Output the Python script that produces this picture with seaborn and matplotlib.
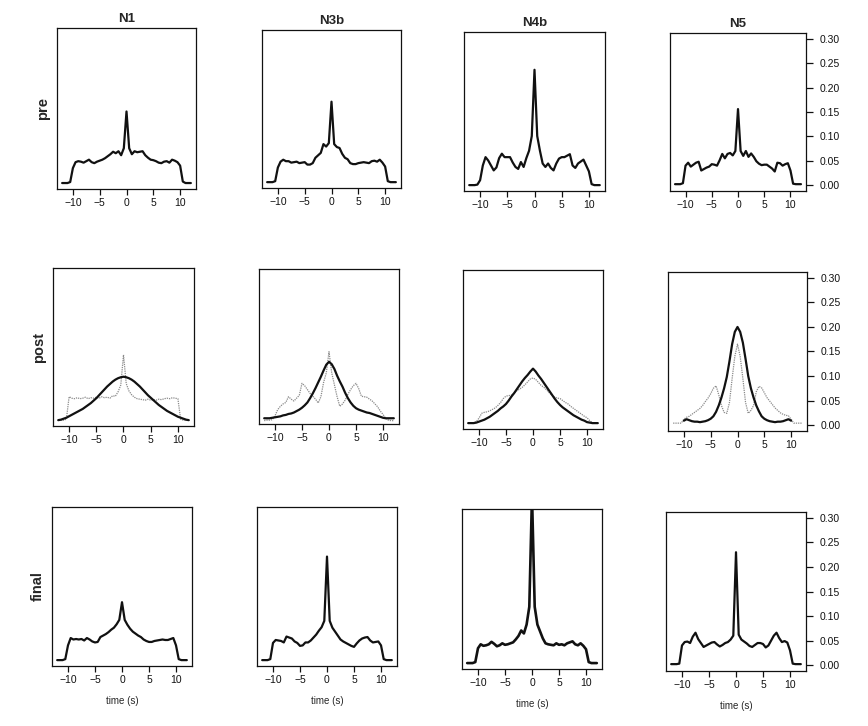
import matplotlib
matplotlib.use("Agg")
import numpy as np
import pandas as pd
import matplotlib.pyplot as plt
import seaborn as sns

nan = np.nan

time_s = [-12.0, -11.5, -11.0, -10.5, -10.0, -9.5, -9.0, -8.5,
          -8.0, -7.5, -7.0, -6.5, -6.0, -5.5, -5.0, -4.5,
          -4.0, -3.5, -3.0, -2.5, -2.0, -1.5, -1.0, -0.5,
          0.0,
          0.5, 1.0, 1.5, 2.0, 2.5, 3.0, 3.5, 4.0,
          4.5, 5.0, 5.5, 6.0, 6.5, 7.0, 7.5, 8.0,
          8.5, 9.0, 9.5, 10.0, 10.5, 11.0, 11.5, 12.0]

neurons = ["N1", "N3b", "N4b", "N5"]
phases = ["pre", "post", "final"]
yticks = [0.0, 0.05, 0.10, 0.15, 0.20, 0.25, 0.30]

# ---- pre ----
pre_n1 = [0.0, 0.0, 0.0, 0.002, 0.030, 0.042, 0.044, 0.043,
          0.041, 0.044, 0.047, 0.042, 0.040, 0.043, 0.045, 0.047,
          0.050, 0.054, 0.058, 0.063, 0.060, 0.064, 0.056, 0.070,
          0.144,
          0.070, 0.058, 0.064, 0.062, 0.063, 0.064, 0.056, 0.051,
          0.047, 0.046, 0.044, 0.041, 0.040, 0.043, 0.044, 0.041,
          0.047, 0.045, 0.042, 0.035, 0.003, 0.0, 0.0, 0.0]
pre_n3b = [0.0, 0.0, 0.0, 0.002, 0.030, 0.042, 0.046, 0.043,
           0.043, 0.040, 0.041, 0.042, 0.039, 0.040, 0.041, 0.036,
           0.036, 0.039, 0.050, 0.055, 0.060, 0.078, 0.073, 0.080,
           0.165,
           0.078, 0.072, 0.070, 0.058, 0.050, 0.047, 0.039, 0.037,
           0.037, 0.039, 0.040, 0.041, 0.040, 0.039, 0.043, 0.044,
           0.042, 0.046, 0.040, 0.032, 0.002, 0.0, 0.0, 0.0]
pre_n4b = [0.0, 0.0, 0.0, 0.001, 0.010, 0.040, 0.057, 0.050,
           0.040, 0.030, 0.036, 0.055, 0.064, 0.057, 0.057, 0.057,
           0.046, 0.037, 0.033, 0.047, 0.037, 0.055, 0.070, 0.100,
           0.235,
           0.100, 0.070, 0.044, 0.037, 0.044, 0.035, 0.030, 0.044,
           0.054, 0.057, 0.057, 0.060, 0.063, 0.040, 0.035, 0.044,
           0.048, 0.052, 0.040, 0.028, 0.002, 0.0, 0.0, 0.0]
pre_n5 = [0.002, 0.002, 0.002, 0.004, 0.040, 0.046, 0.038, 0.042,
          0.046, 0.048, 0.030, 0.033, 0.036, 0.038, 0.043, 0.042,
          0.040, 0.051, 0.064, 0.055, 0.064, 0.066, 0.061, 0.070,
          0.156,
          0.070, 0.060, 0.070, 0.058, 0.065, 0.058, 0.049, 0.044,
          0.041, 0.042, 0.042, 0.038, 0.034, 0.028, 0.046, 0.045,
          0.040, 0.043, 0.045, 0.030, 0.003, 0.002, 0.002, 0.002]

# ---- post (solid) ----
post_n1 = [0.0, 0.001, 0.003, 0.005, 0.008, 0.011, 0.014, 0.017,
           0.020, 0.023, 0.027, 0.031, 0.035, 0.040, 0.045, 0.051,
           0.057, 0.063, 0.069, 0.074, 0.079, 0.083, 0.086, 0.088,
           0.089,
           0.088, 0.086, 0.083, 0.079, 0.074, 0.069, 0.063, 0.057,
           0.051, 0.046, 0.041, 0.036, 0.031, 0.027, 0.023, 0.019,
           0.016, 0.013, 0.010, 0.007, 0.005, 0.003, 0.001, 0.0]
post_n3b = [0.0, 0.0, 0.0, 0.001, 0.002, 0.003, 0.004, 0.006,
            0.007, 0.009, 0.010, 0.012, 0.015, 0.018, 0.022, 0.027,
            0.033, 0.042, 0.052, 0.063, 0.075, 0.087, 0.100, 0.112,
            0.118,
            0.113, 0.103, 0.089, 0.077, 0.066, 0.053, 0.042, 0.033,
            0.026, 0.021, 0.018, 0.016, 0.014, 0.012, 0.011, 0.009,
            0.007, 0.005, 0.003, 0.001, 0.0, 0.0, 0.0, 0.0]
post_n4b = [0.0, 0.0, 0.0, 0.001, 0.003, 0.005, 0.007, 0.010,
            0.013, 0.017, 0.021, 0.025, 0.030, 0.034, 0.039, 0.046,
            0.054, 0.061, 0.069, 0.077, 0.085, 0.092, 0.098, 0.105,
            0.111,
            0.105, 0.097, 0.090, 0.082, 0.074, 0.066, 0.058, 0.050,
            0.043, 0.037, 0.032, 0.028, 0.024, 0.020, 0.016, 0.013,
            0.010, 0.007, 0.005, 0.002, 0.001, 0.0, 0.0, 0.0]
post_n5 = [nan, nan, nan, nan, 0.009, 0.012, 0.010, 0.008,
           0.007, 0.007, 0.006, 0.007, 0.008, 0.010, 0.013, 0.018,
           0.027, 0.040, 0.056, 0.075, 0.098, 0.130, 0.165, 0.190,
           0.200,
           0.190, 0.168, 0.135, 0.100, 0.075, 0.056, 0.040, 0.028,
           0.018, 0.013, 0.010, 0.008, 0.007, 0.006, 0.007, 0.007,
           0.008, 0.010, 0.012, 0.009, nan, nan, nan, nan]

# ---- post (dotted grey) ----
post_n1_dot = [0.0, 0.0, 0.0, 0.002, 0.048, 0.045, 0.044, 0.046,
               0.044, 0.045, 0.047, 0.044, 0.046, 0.045, 0.047, 0.045,
               0.048, 0.046, 0.047, 0.045, 0.050, 0.049, 0.058, 0.072,
               0.134,
               0.075, 0.060, 0.052, 0.047, 0.044, 0.043, 0.042, 0.041,
               0.043, 0.041, 0.042, 0.041, 0.043, 0.042, 0.044, 0.045,
               0.044, 0.046, 0.045, 0.044, 0.002, 0.0, 0.0, 0.0]
post_n3b_dot = [-0.005, -0.004, -0.004, -0.003, 0.005, 0.018, 0.025, 0.030,
                0.033, 0.045, 0.040, 0.036, 0.042, 0.048, 0.073, 0.068,
                0.060, 0.052, 0.046, 0.040, 0.032, 0.045, 0.075, 0.095,
                0.139,
                0.095, 0.070, 0.045, 0.025, 0.030, 0.038, 0.050, 0.060,
                0.068, 0.073, 0.062, 0.046, 0.045, 0.044, 0.040, 0.036,
                0.030, 0.024, 0.015, 0.008, 0.0, -0.004, -0.005, -0.005]
post_n4b_dot = [0.0, 0.0, 0.001, 0.003, 0.010, 0.020, 0.022, 0.023,
                0.025, 0.028, 0.031, 0.036, 0.042, 0.050, 0.055, 0.056,
                0.057, 0.061, 0.066, 0.069, 0.073, 0.078, 0.084, 0.090,
                0.092,
                0.089, 0.083, 0.077, 0.073, 0.068, 0.062, 0.057, 0.053,
                0.051, 0.050, 0.046, 0.042, 0.039, 0.034, 0.030, 0.026,
                0.022, 0.018, 0.014, 0.011, 0.005, 0.001, 0.0, 0.0]
post_n5_dot = [0.004, 0.004, 0.004, 0.004, 0.012, 0.016, 0.018, 0.022,
               0.026, 0.030, 0.034, 0.040, 0.048, 0.055, 0.064, 0.075,
               0.080, 0.062, 0.040, 0.026, 0.024, 0.046, 0.095, 0.140,
               0.165,
               0.140, 0.095, 0.046, 0.024, 0.030, 0.040, 0.068, 0.079,
               0.076, 0.066, 0.056, 0.049, 0.042, 0.035, 0.030, 0.025,
               0.022, 0.020, 0.019, 0.012, 0.004, 0.004, 0.004, 0.004]

# ---- final ----
final_n1 = [0.0, 0.0, 0.0, 0.002, 0.030, 0.045, 0.042, 0.043,
            0.042, 0.043, 0.040, 0.045, 0.042, 0.038, 0.036, 0.037,
            0.047, 0.050, 0.053, 0.057, 0.062, 0.066, 0.073, 0.082,
            0.118,
            0.082, 0.072, 0.064, 0.058, 0.054, 0.050, 0.047, 0.042,
            0.039, 0.037, 0.037, 0.039, 0.040, 0.041, 0.042, 0.041,
            0.041, 0.043, 0.045, 0.030, 0.002, 0.0, 0.0, 0.0]
final_n3b = [0.0, 0.0, 0.0, 0.002, 0.035, 0.041, 0.040, 0.039,
             0.036, 0.048, 0.046, 0.044, 0.038, 0.035, 0.029, 0.030,
             0.036, 0.036, 0.040, 0.046, 0.052, 0.060, 0.067, 0.080,
             0.211,
             0.080, 0.066, 0.058, 0.050, 0.042, 0.038, 0.035, 0.032,
             0.029, 0.027, 0.034, 0.040, 0.044, 0.046, 0.047, 0.040,
             0.036, 0.037, 0.038, 0.030, 0.002, 0.0, 0.0, 0.0]
final_n4b = [0.0, 0.0, 0.0, 0.002, 0.030, 0.038, 0.035, 0.036,
             0.038, 0.043, 0.039, 0.034, 0.036, 0.040, 0.037, 0.038,
             0.040, 0.042, 0.048, 0.055, 0.066, 0.060, 0.078, 0.114,
             0.340,
             0.114, 0.078, 0.064, 0.050, 0.040, 0.038, 0.037, 0.036,
             0.040, 0.037, 0.038, 0.036, 0.040, 0.042, 0.044, 0.038,
             0.036, 0.040, 0.035, 0.028, 0.002, 0.0, 0.0, 0.0]
final_n5 = [0.002, 0.002, 0.002, 0.003, 0.040, 0.047, 0.048, 0.045,
            0.058, 0.066, 0.053, 0.045, 0.037, 0.040, 0.043, 0.046,
            0.047, 0.042, 0.038, 0.041, 0.045, 0.047, 0.052, 0.060,
            0.230,
            0.062, 0.052, 0.048, 0.044, 0.039, 0.037, 0.041, 0.045,
            0.045, 0.043, 0.036, 0.040, 0.050, 0.060, 0.066, 0.055,
            0.047, 0.049, 0.046, 0.030, 0.003, 0.002, 0.002, 0.002]

solid = {
    "pre": [pre_n1, pre_n3b, pre_n4b, pre_n5],
    "post": [post_n1, post_n3b, post_n4b, post_n5],
    "final": [final_n1, final_n3b, final_n4b, final_n5],
}
dotted = [post_n1_dot, post_n3b_dot, post_n4b_dot, post_n5_dot]

# panel boxes in pixels (left, top, right, bottom)
boxes = [
    [(57, 28, 196, 189), (262, 30, 401, 188), (464, 32, 605, 191), (670, 33, 806, 191)],
    [(53, 268, 194, 426), (259, 269, 399, 424), (463, 270, 603, 429), (668, 272, 807, 431)],
    [(52, 507, 192, 666), (257, 507, 397, 666), (462, 509, 602, 669), (666, 512, 806, 671)],
]

sns.set_style("ticks")
plt.rcParams["font.family"] = ["Liberation Sans", "DejaVu Sans"]

W, H = 868, 726
fig = plt.figure(figsize=(W / 100, H / 100), dpi=100)


def curve_df(values):
    return pd.DataFrame({"time": time_s, "value": values}).dropna()


for i, phase in enumerate(phases):
    for j, name in enumerate(neurons):
        l, t, r, b = boxes[i][j]
        ax = fig.add_axes([l / W, 1 - b / H, (r - l) / W, (b - t) / H])

        if phase == "post":
            sns.lineplot(data=curve_df(dotted[j]), x="time", y="value", ax=ax,
                         color="#8a8a8a", linewidth=0.9, linestyle=(0, (1, 0.8)),
                         estimator=None, errorbar=None)
        lw = 1.9 if (phase == "final" and name == "N4b") else 1.6
        sns.lineplot(data=curve_df(solid[phase][j]), x="time", y="value", ax=ax,
                     color="#111111", linewidth=lw, estimator=None, errorbar=None)

        ax.set_xlim(-12.96, 12.96)
        ax.set_ylim(-0.012, 0.312)
        ax.set_xticks([-10, -5, 0, 5, 10])
        ax.set_xlabel("")
        ax.set_ylabel("")
        for sp in ax.spines.values():
            sp.set_visible(True)
            sp.set_linewidth(0.9)
            sp.set_color("#111111")
        ax.tick_params(axis="x", labelsize=7.5, length=4, width=0.9, pad=2.5,
                       direction="out", colors="#111111")

        if j == 3:
            ax.yaxis.tick_right()
            ax.set_yticks(yticks)
            ax.set_yticklabels([f"{v:.2f}" for v in yticks])
            ax.tick_params(axis="y", labelsize=7.5, length=5, width=0.9, pad=5,
                           direction="out", colors="#111111")
        else:
            ax.set_yticks([])

        if i == 0:
            ax.set_title(name, fontsize=9.5, fontweight="bold", pad=4)
        if j == 0:
            ax.set_ylabel(phase, fontsize=10.5, fontweight="bold", labelpad=5)
        if i == 2:
            ax.set_xlabel("time (s)", fontsize=7, labelpad=8)

fig.savefig("out.png", dpi=100, facecolor="white")
